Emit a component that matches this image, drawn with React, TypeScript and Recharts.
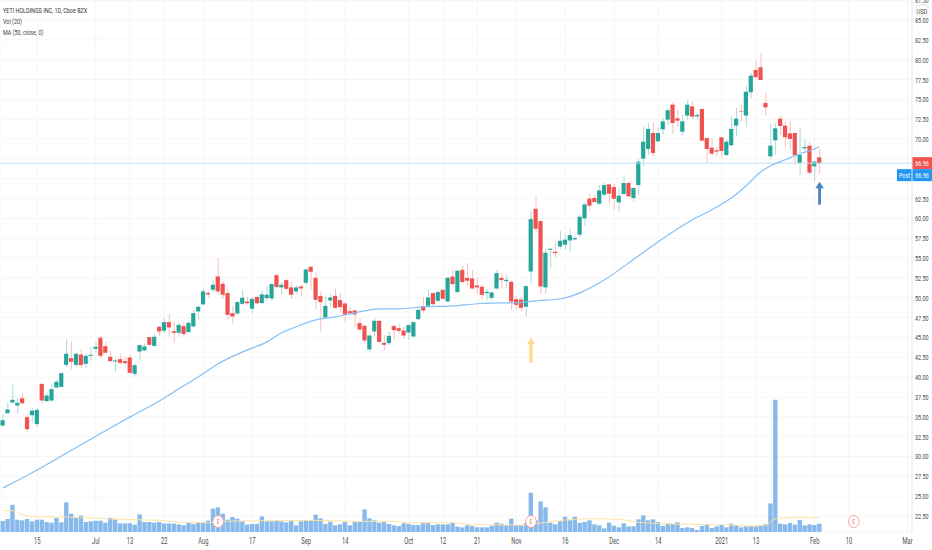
import {
  Bar,
  CartesianGrid,
  Cell,
  ComposedChart,
  Line,
  ReferenceLine,
  Scatter,
  XAxis,
  YAxis,
} from "recharts"

const UP = "#26a69a"
const DOWN = "#ef5350"
const UP_WICK = "#a8dcd7"
const DOWN_WICK = "#f9bebd"
const GRID = "#f6f6f6"
const AXIS_LINE = "#e9e9e9"
const LABEL = "#4a4a4a"
const SQUEEZE = 0.68

const opens = [
  33.90,35.45,36.80,36.42,37.35,34.95,35.20,34.07,39.15,36.97,
  37.05,38.69,38.77,41.55,42.39,41.55,42.85,41.67,42.68,43.57,
  44.95,43.90,42.56,41.97,42.26,42.01,42.47,40.41,43.23,43.36,
  45.04,43.94,46.34,45.84,46.93,45.79,45.58,46.42,45.67,46.38,
  48.27,49.16,50.59,51.01,52.69,51.76,50.59,48.06,48.02,49.24,
  49.53,48.61,50.08,49.32,49.95,49.91,52.85,51.30,52.22,51.30,
  50.80,51.42,51.88,53.90,52.51,50.24,47.51,49.66,50.24,49.70,
  49.28,48.31,48.40,46.80,46.46,43.48,45.75,47.09,44.32,44.28,
  46.42,46.17,45.87,45.62,45.12,47.30,48.94,48.98,50.58,49.61,
  51.00,49.53,52.68,50.71,53.52,52.51,52.43,51.55,51.38,50.58,
  49.99,51.17,52.51,52.09,52.01,49.82,49.78,48.86,53.31,61.21,
  59.66,51.30,56.04,55.79,56.46,56.68,57.22,57.35,57.94,60.00,
  62.48,62.57,61.85,62.99,64.29,63.95,62.02,63.07,64.46,62.57,
  64.20,67.53,68.74,70.76,69.71,71.22,72.44,74.33,72.61,70.93,
  72.95,74.12,72.86,73.79,70.13,68.91,68.58,70.22,67.99,69.21,
  71.69,73.49,72.95,75.89,78.71,79.04,74.54,67.82,69.84,72.57,
  71.69,70.72,70.76,66.98,68.83,69.16,66.56,67.69,
]

const closes = [
  34.57,35.92,37.14,36.76,36.72,33.44,35.75,35.87,37.05,37.68,
  38.48,39.41,40.50,42.94,41.93,42.94,41.51,42.68,42.81,43.82,
  42.68,43.06,42.01,42.10,41.80,41.76,40.54,41.51,44.03,43.86,
  44.07,45.08,45.75,46.93,46.26,45.58,46.59,45.42,46.84,48.06,
  48.86,50.80,50.42,51.64,50.80,50.38,47.85,47.64,49.45,50.00,
  49.32,49.87,49.32,50.42,50.38,51.72,51.34,51.64,51.13,50.38,
  51.30,51.17,53.56,53.27,49.74,49.45,48.98,50.03,48.73,48.82,
  47.89,48.06,47.89,46.00,44.61,45.24,47.09,44.44,44.07,45.20,
  45.92,45.83,45.24,46.55,46.92,48.48,48.40,50.03,49.19,50.71,
  49.87,52.51,51.72,53.40,51.97,52.14,51.17,51.30,50.37,50.75,
  50.66,53.10,52.22,52.26,49.53,49.11,48.73,51.46,59.91,58.69,
  51.42,55.67,56.17,55.62,57.18,57.31,57.89,57.52,60.21,61.76,
  61.60,62.06,63.53,64.20,63.11,62.48,62.86,64.46,62.78,63.83,
  67.15,69.67,71.27,68.24,70.76,72.23,73.62,72.02,72.32,72.23,
  74.33,72.82,73.03,69.80,68.74,68.16,68.41,68.49,69.67,71.27,
  72.57,73.41,75.97,77.99,77.78,77.44,73.99,69.16,71.35,71.64,
  70.22,70.01,67.95,67.99,69.00,65.76,67.15,66.94,
]

const highs = [
  35.37,36.80,39.03,37.35,37.98,35.24,36.08,36.08,39.15,38.06,
  39.03,39.66,40.58,44.70,44.49,43.10,43.52,42.94,43.78,44.36,
  45.21,44.49,43.31,42.39,42.94,42.60,42.81,41.76,44.20,44.28,
  45.04,45.33,46.47,47.43,47.98,46.97,46.80,46.93,47.10,48.48,
  48.99,51.09,50.88,52.27,55.00,52.06,51.09,49.03,49.62,51.01,
  50.16,50.08,50.25,50.92,51.43,51.93,52.94,51.93,52.35,51.97,
  51.55,51.63,53.73,53.99,53.19,50.79,50.16,50.50,51.13,50.58,
  49.40,48.90,48.48,47.43,46.59,45.54,47.43,47.13,45.28,45.75,
  46.59,46.63,46.42,46.71,47.01,48.56,50.08,51.00,50.66,51.00,
  51.17,52.68,53.52,53.52,54.03,54.28,53.52,52.51,51.63,51.13,
  50.83,53.52,53.10,52.89,52.18,50.24,50.16,51.63,61.00,62.77,
  59.74,56.13,56.26,57.14,58.40,57.94,58.65,57.81,60.46,62.01,
  63.11,63.07,64.20,64.54,64.46,64.37,63.74,65.51,64.67,63.95,
  67.48,71.52,72.02,72.11,71.39,72.65,73.91,74.67,73.70,73.07,
  74.84,74.75,73.20,73.83,70.13,70.13,69.08,70.26,69.92,72.86,
  73.91,74.33,76.73,78.33,79.88,80.85,75.81,71.94,72.02,72.86,
  72.23,72.23,70.85,71.39,70.01,69.58,67.31,68.74,
]

const lows = [
  33.65,35.37,36.72,35.45,36.51,33.14,34.28,33.69,36.72,36.88,
  36.97,38.61,38.69,41.26,41.00,41.21,41.13,41.13,42.10,43.10,
  42.39,43.02,41.89,40.71,41.55,41.63,40.41,40.08,42.10,43.27,
  43.94,43.86,45.21,45.54,45.12,44.36,45.04,45.21,45.58,46.30,
  47.22,49.07,50.04,50.67,50.46,49.83,47.22,46.72,47.85,49.16,
  49.11,47.98,49.11,49.24,49.66,49.53,51.22,50.38,51.01,49.87,
  50.50,50.24,51.63,51.00,48.56,45.75,47.30,48.90,48.61,48.14,
  46.88,47.97,46.29,45.75,44.28,43.10,45.12,44.36,43.35,44.02,
  44.70,45.45,44.82,44.61,45.03,47.13,48.06,48.82,48.98,49.53,
  49.74,49.40,51.42,50.58,51.84,51.42,51.08,50.50,49.74,49.66,
  49.61,51.00,51.17,51.17,48.48,48.48,48.27,47.64,51.84,58.15,
  50.50,50.58,53.73,55.04,56.13,56.04,55.79,57.22,57.64,59.07,
  60.93,62.02,61.73,62.86,61.81,61.09,60.88,62.99,62.69,62.15,
  62.99,66.56,68.03,67.82,69.58,70.55,71.81,70.68,71.52,70.43,
  72.44,72.53,72.44,69.71,67.06,67.82,67.82,67.48,67.82,69.08,
  70.34,72.23,71.52,75.17,77.70,77.40,72.95,67.40,68.03,70.55,
  69.00,68.66,66.77,65.51,68.24,65.51,64.67,65.63,
]

// millions of shares
const volumes = [
  .66,.78,1.64,.74,.70,.78,.64,.74,.74,.60,
  .56,.84,.58,1.78,1.10,.84,.98,.60,.64,.68,
  .68,.56,.86,.74,.52,.52,.52,.44,1.06,.60,
  .60,.56,.60,.52,.52,.50,.46,.40,.56,.48,
  .56,.56,.68,1.40,1.48,1.10,.74,.90,.80,.64,
  .44,.48,.48,.94,.64,.64,.70,.64,.58,.70,
  .40,.64,.70,.70,1.04,.82,.48,.62,.40,.46,
  .60,.40,.60,.60,1.36,.82,.70,.56,.60,.48,
  .40,.36,.52,.48,.42,.42,.56,.56,.42,.46,
  .46,.46,.54,.32,.28,.40,.36,.28,.28,.28,
  .38,.56,.50,.40,.80,.40,.40,.54,2.36,.70,
  1.84,1.48,.56,.46,.64,.92,.70,.92,.54,.60,
  .70,.46,.40,.22,.56,.38,.28,.52,.34,.34,
  .76,1.00,.70,.76,.60,.36,.50,.48,.58,.24,
  .28,.24,.12,.36,.42,.24,.34,.44,.28,.50,
  .42,.28,.34,.36,.34,.42,.48,1.72,7.96,.50,
  .46,.54,.44,.72,.40,.46,.42,.50,
]

// moving averages, the line joins these bars
const ma50Bars = [0,7,18,23,26,32,36,40,44,49,54,57,61,64,68,72,77,81,86,92,97,102,105,109,114,118,122,130,134,141,145,149,152,155,157,160,163,165,167]
const ma50Values = [26.03,28.30,32.21,33.95,34.99,37.00,38.52,40.03,41.67,43.18,44.44,45.58,46.59,47.22,47.60,48.10,48.60,48.60,48.86,48.98,49.24,49.36,49.36,49.61,49.87,50.62,51.88,55.29,57.05,59.83,61.09,62.60,64.12,65.88,66.64,67.39,68.15,68.53,69.03]
const volMaBars = [0,2,4,6,13,20,27,32,36,42,43,47,54,64,72,79,84,92,96,106,110,113,120,126,130,131,137,147,153,156,158,163,167]
const volMaValues = [1.28,1.28,1.04,.92,.90,.82,.74,.70,.58,.56,.60,.66,.68,.70,.64,.64,.54,.56,.44,.42,.54,.66,.80,.76,.58,.56,.48,.44,.36,.40,.80,.88,.86]

const xTickBars = [7,19,26,33,41,51,62,70,83,90,97,105,115,125,134,147,154,166,173,185]
const xTickLabels = ["15","Jul","13","22","Aug","17","Sep","14","Oct","12","21","Nov","16","Dec","14","2021","13","Feb","10","Mar"]
const priceTicks = [22.5,25,27.5,30,32.5,35,37.5,40,42.5,45,47.5,50,52.5,55,57.5,60,62.5,65,67.5,70,72.5,75,77.5,80,82.5,85,87.5]
// these two sit under the price tags
const coveredTicks = [65,67.5]

const earningsBars = [44,108,174]
const earningsLevel = 0.63
const upArrow = [{ bar: 108, price: 44.95 }]
const blueArrow = [{ bar: 167, price: 64.62 }]
const lastPrice = 66.96

const rows = opens.map((open, i) => ({
  bar: i,
  wick: [lows[i], highs[i]],
  body: [Math.min(open, closes[i]), Math.max(open, closes[i])],
  up: closes[i] >= open,
  volume: volumes[i],
}))

const ma50Points = ma50Bars.map((bar, i) => ({ bar, ma50: ma50Values[i] }))
const volMaPoints = volMaBars.map((bar, i) => ({ bar, volMa: volMaValues[i] }))
const earnings = earningsBars.map((bar) => ({ bar, level: earningsLevel }))

function Squeezed({ x, y, color = "#fff", anchor = "start", size = 8, children }: any) {
  return (
    <text
      transform={`translate(${x},${y}) scale(${SQUEEZE} 1)`}
      textAnchor={anchor}
      fontFamily="Roboto"
      fontSize={size}
      fill={color}
    >
      {children}
    </text>
  )
}

function XTick({ x, payload }: any) {
  return (
    <Squeezed x={x} y={544} anchor="middle" color={LABEL} size={8.5}>
      {xTickLabels[xTickBars.indexOf(payload.value)]}
    </Squeezed>
  )
}

function YTick({ y, payload }: any) {
  if (coveredTicks.includes(payload.value)) return <g />
  return (
    <Squeezed x={915} y={y + 3} color={LABEL}>
      {payload.value.toFixed(2)}
    </Squeezed>
  )
}

function PriceTags({ viewBox }: any) {
  const right = viewBox.x + viewBox.width
  const y = viewBox.y
  return (
    <g>
      <rect x={right} y={y - 6} width={20} height={12} fill="#f05350" />
      <Squeezed x={right + 10} y={y + 3} anchor="middle">{lastPrice.toFixed(2)}</Squeezed>
      <rect x={right - 15} y={y + 6} width={35} height={12} fill="#2196f3" />
      <Squeezed x={right - 7.5} y={y + 15} anchor="middle">Post</Squeezed>
      <Squeezed x={right + 10} y={y + 15} anchor="middle">{lastPrice.toFixed(2)}</Squeezed>
    </g>
  )
}

function Arrow({ cx, cy, color, length, shaft }: any) {
  return (
    <g fill={color} stroke="none">
      <path d={`M${cx},${cy} l4.2,6.5 h-8.4 z`} />
      <rect x={cx - shaft / 2} y={cy + 6} width={shaft} height={length - 6} />
    </g>
  )
}

function EarningsMark({ cx, cy }: any) {
  return (
    <g>
      <ellipse cx={cx} cy={cy} rx={5.3} ry={6} fill="#fff" stroke="#f5a3a2" strokeWidth={1} />
      <Squeezed x={cx} y={cy + 2.7} anchor="middle" color="#ef7472" size={7.5}>E</Squeezed>
    </g>
  )
}

export default function App() {
  const domain: [number, number] = [-0.6, 185.9]
  return (
    <div style={{ position: "absolute", left: 0, top: 0, width: 932, height: 550, background: "#fff" }}>
      <ComposedChart width={932} height={550} data={rows} margin={{ top: 0, right: 0, bottom: 0, left: 0 }}>
        <XAxis
          xAxisId="main"
          dataKey="bar"
          type="number"
          domain={domain}
          ticks={xTickBars}
          interval={0}
          height={18}
          stroke={AXIS_LINE}
          tickLine={false}
          tick={<XTick />}
        />
        <XAxis xAxisId="volume" dataKey="bar" type="number" domain={domain} hide />
        <XAxis xAxisId="wick" dataKey="bar" type="number" domain={domain} hide />
        <XAxis xAxisId="body" dataKey="bar" type="number" domain={domain} hide />
        <YAxis
          yAxisId="price"
          orientation="right"
          width={20}
          domain={[20.48, 87.52]}
          ticks={priceTicks}
          interval={0}
          stroke={AXIS_LINE}
          tickLine={false}
          tick={<YTick />}
        />
        <YAxis yAxisId="vol" hide domain={[0, 32]} />
        <CartesianGrid xAxisId="main" yAxisId="price" stroke={GRID} />

        <Bar xAxisId="volume" yAxisId="vol" dataKey="volume" barSize={4.4} fill="#87b9ea" isAnimationActive={false} />
        <Line xAxisId="main" yAxisId="vol" data={volMaPoints} dataKey="volMa" type="monotone" dot={() => <g />} activeDot={false} stroke="#fde2a6" strokeWidth={1} isAnimationActive={false} />

        <ReferenceLine xAxisId="main" yAxisId="price" y={lastPrice} stroke="#c3dff6" label={<PriceTags />} />

        <Bar xAxisId="wick" yAxisId="price" dataKey="wick" barSize={1} isAnimationActive={false}>
          {rows.map((r) => (
            <Cell key={r.bar} fill={r.up ? UP_WICK : DOWN_WICK} />
          ))}
        </Bar>
        <Bar xAxisId="body" yAxisId="price" dataKey="body" barSize={4.2} isAnimationActive={false}>
          {rows.map((r) => (
            <Cell key={r.bar} fill={r.up ? UP : DOWN} />
          ))}
        </Bar>
        <Line xAxisId="main" yAxisId="price" data={ma50Points} dataKey="ma50" type="monotone" dot={() => <g />} activeDot={false} stroke="#85bff3" strokeWidth={1.2} isAnimationActive={false} />

        <Scatter
          xAxisId="main"
          yAxisId="price"
          data={upArrow}
          dataKey="price"
          isAnimationActive={false}
          shape={(p: any) => <Arrow {...p} color="#fedd8c" length={25} shaft={3.6} />}
        />
        <Scatter
          xAxisId="main"
          yAxisId="price"
          data={blueArrow}
          dataKey="price"
          isAnimationActive={false}
          shape={(p: any) => <Arrow {...p} color="#4a86c1" length={23} shaft={2.8} />}
        />
        <Scatter xAxisId="main" yAxisId="vol" data={earnings} dataKey="level" isAnimationActive={false} shape={(p: any) => <EarningsMark {...p} />} />

        <Squeezed x={3} y={13} color="#333" size={8}>YETI HOLDINGS INC, 1D, Cboe BZX</Squeezed>
        <Squeezed x={3} y={24} color="#444" size={8}>Vol (20)</Squeezed>
        <Squeezed x={3} y={35} color="#444" size={8}>MA (50, close, 0)</Squeezed>

        <rect x={916} y={5} width={12} height={11} rx={2} fill="#fff" stroke="#e4e4e4" />
        <Squeezed x={922} y={13.5} anchor="middle" color={LABEL}>USD</Squeezed>
      </ComposedChart>
    </div>
  )
}
